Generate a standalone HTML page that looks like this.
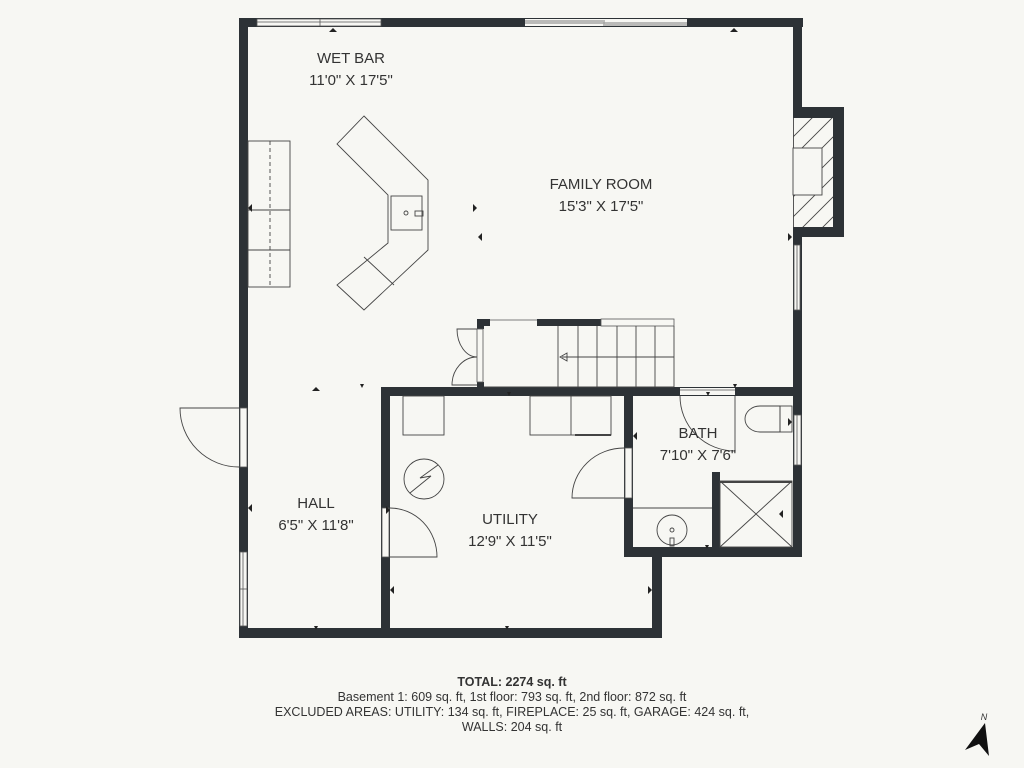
<!DOCTYPE html>
<html><head><meta charset="utf-8"><style>
html,body{margin:0;padding:0;background:#f7f7f3;}
svg{display:block}
text{font-family:"Liberation Sans",sans-serif;fill:#333;}
</style></head><body>
<svg width="1024" height="768" viewBox="0 0 1024 768" xmlns="http://www.w3.org/2000/svg">
<rect width="1024" height="768" fill="#f7f7f3"/>
<g fill="#2d3236">
<rect x="239" y="18" width="9" height="620"/>
<rect x="239" y="18" width="564" height="9"/>
<rect x="793" y="18" width="9" height="539"/>
<rect x="793" y="107" width="51" height="130"/>
<rect x="239" y="628" width="423" height="10"/>
<rect x="652" y="547" width="10" height="91"/>
<rect x="624" y="547" width="178" height="10"/>
<rect x="624" y="387" width="9" height="170"/>
<rect x="381" y="387" width="421" height="9"/>
<rect x="381" y="387" width="9" height="251"/>
<rect x="712" y="472" width="8" height="85"/>
<rect x="477" y="319" width="13" height="7"/>
<rect x="537" y="319" width="64" height="7"/>
<rect x="477" y="319" width="7" height="10"/>
<rect x="477" y="382" width="7" height="8"/>
</g>
<g fill="#f7f7f3" stroke="#555" stroke-width="0.8">
<rect x="257" y="19" width="124" height="7"/>
<line x1="320" y1="19" x2="320" y2="26"/><line x1="257" y1="22" x2="381" y2="22"/>
<rect x="525" y="19" width="162" height="7" stroke="none"/>
<line x1="525" y1="21" x2="605" y2="21"/><line x1="525" y1="23" x2="605" y2="23"/>
<line x1="603" y1="23" x2="687" y2="23"/><line x1="603" y1="25" x2="687" y2="25"/>
<rect x="240" y="408" width="7" height="59"/>
<rect x="240" y="552" width="7" height="74"/><line x1="240" y1="589" x2="247" y2="589"/><line x1="243" y1="552" x2="243" y2="626"/>
<rect x="794" y="245" width="6" height="65"/><line x1="797" y1="245" x2="797" y2="310"/>
<rect x="794" y="415" width="7" height="50"/><line x1="797" y1="415" x2="797" y2="465"/>
<rect x="625" y="448" width="7" height="50"/>
<rect x="382" y="508" width="7" height="49"/>
<rect x="680" y="388" width="55" height="7" stroke="none"/>
<line x1="680" y1="390" x2="735" y2="390"/>
<rect x="490" y="319" width="47" height="6" stroke="none"/>
<line x1="490" y1="320" x2="537" y2="320"/>
<rect x="601" y="319" width="73" height="7"/>
<rect x="477" y="329" width="6" height="53"/>
<rect x="793" y="118" width="40" height="109" stroke="none"/>
</g>
<g fill="none" stroke="#444" stroke-width="0.9">
<clipPath id="fc"><rect x="793" y="118" width="40" height="109"/></clipPath>
<g clip-path="url(#fc)">
<line x1="780" y1="150" x2="840" y2="90"/><line x1="780" y1="170" x2="840" y2="110"/><line x1="780" y1="190" x2="840" y2="130"/><line x1="780" y1="210" x2="840" y2="150"/><line x1="780" y1="230" x2="840" y2="170"/><line x1="780" y1="250" x2="840" y2="190"/><line x1="780" y1="270" x2="840" y2="210"/><line x1="780" y1="290" x2="840" y2="230"/><line x1="780" y1="130" x2="840" y2="70"/>
</g>
<line x1="793.5" y1="118" x2="793.5" y2="227"/>
<rect x="793" y="148" width="29" height="47" fill="#f7f7f3"/>
<rect x="248" y="141" width="42" height="146"/>
<line x1="248" y1="210" x2="290" y2="210"/><line x1="248" y1="250" x2="290" y2="250"/>
<line x1="270" y1="141" x2="270" y2="287" stroke-dasharray="4,3"/>
<polygon points="364,116 428,180 428,250 364,310 337,285 388,243 388,195 337,144"/>
<rect x="391" y="196" width="31" height="34"/>
<circle cx="406" cy="213" r="2"/><rect x="415" y="211" width="8" height="5"/>
<line x1="364" y1="257" x2="394" y2="285"/>
<line x1="484" y1="387" x2="674" y2="387"/>
<line x1="558" y1="326" x2="558" y2="387"/><line x1="578" y1="326" x2="578" y2="387"/><line x1="597" y1="326" x2="597" y2="387"/><line x1="617" y1="326" x2="617" y2="387"/><line x1="636" y1="326" x2="636" y2="387"/><line x1="655" y1="326" x2="655" y2="387"/><line x1="674" y1="326" x2="674" y2="387"/>
<line x1="562" y1="357" x2="674" y2="357"/>
<polygon points="560,357 567,353 567,361"/>
<path d="M477,329 L457,329 A20,28 0 0 0 477,357"/>
<path d="M477,385 L452,385 A25,28 0 0 1 477,357"/>
<path d="M239,408 L180,408 A59,59 0 0 0 239,467"/>
<path d="M390,508 A47,49 0 0 1 437,557 L390,557"/>
<path d="M624,448 A52,50 0 0 0 572,498 L624,498"/>
<path d="M680,396 A55,55 0 0 0 735,451 L735,396"/>
<rect x="403" y="396" width="41" height="39"/>
<rect x="530" y="396" width="81" height="39"/><line x1="571" y1="396" x2="571" y2="435"/>
<line x1="575" y1="435" x2="611" y2="435" stroke-width="2"/>
<circle cx="424" cy="479" r="20"/>
<path d="M410,493 L431,476 L420,478 L438,465"/>
<path d="M780,406 L760,406 A15,13 0 0 0 760,432 L780,432 Z"/>
<rect x="780" y="406" width="12" height="26"/>
<rect x="633" y="508" width="79" height="39" stroke="none"/>
<line x1="633" y1="508" x2="712" y2="508"/>
<circle cx="672" cy="530" r="15"/><circle cx="672" cy="530" r="2"/>
<rect x="670" y="538" width="4" height="8"/>
<rect x="720" y="481" width="72" height="66"/>
<line x1="720" y1="481" x2="792" y2="547"/><line x1="792" y1="481" x2="720" y2="547"/>
<line x1="720" y1="482" x2="792" y2="482" stroke-width="2"/>
</g>
<g fill="#222">
<polygon points="333,28 337,32 329,32"/><polygon points="734,28 738,32 730,32"/>
<polygon points="248,208 252,204 252,212"/><polygon points="473,208 477,204 477,212" transform="rotate(180 475 208)"/>
<polygon points="478,237 482,233 482,241"/><polygon points="792,237 788,233 788,241"/>
<polygon points="316,391 320,387 312,387" transform="rotate(180 316 389)"/><polygon points="360,384 364,384 362,388"/>
<polygon points="507,396 511,396 509,392" transform="rotate(180 509 394)"/><polygon points="706,396 710,396 708,392" transform="rotate(180 708 394)"/>
<polygon points="733,384 737,384 735,388"/>
<polygon points="633,436 637,432 637,440"/><polygon points="792,422 788,418 788,426"/>
<polygon points="248,508 252,504 252,512"/><polygon points="390,510 386,506 386,514"/>
<polygon points="390,590 394,586 394,594"/><polygon points="652,590 648,586 648,594"/>
<polygon points="314,626 318,626 316,630"/><polygon points="505,626 509,626 507,630"/>
<polygon points="705,545 709,545 707,549"/><polygon points="779,514 783,510 783,518"/>
</g>
<g font-size="15" text-anchor="middle">
<text x="351" y="63">WET BAR</text>
<text x="351" y="85">11'0" X 17'5"</text>
<text x="601" y="189">FAMILY ROOM</text>
<text x="601" y="211">15'3" X 17'5"</text>
<text x="698" y="438">BATH</text>
<text x="698" y="460">7'10" X 7'6"</text>
<text x="316" y="508">HALL</text>
<text x="316" y="530">6'5" X 11'8"</text>
<text x="510" y="524">UTILITY</text>
<text x="510" y="546">12'9" X 11'5"</text>
</g>
<g font-size="12.5" text-anchor="middle">
<text x="512" y="686" font-weight="bold">TOTAL: 2274 sq. ft</text>
<text x="512" y="701">Basement 1: 609 sq. ft, 1st floor: 793 sq. ft, 2nd floor: 872 sq. ft</text>
<text x="512" y="716">EXCLUDED AREAS: UTILITY: 134 sq. ft, FIREPLACE: 25 sq. ft, GARAGE: 424 sq. ft,</text>
<text x="512" y="731">WALLS: 204 sq. ft</text>
</g>
<text x="984" y="720" font-size="9" font-style="italic" text-anchor="middle">N</text>
<polygon points="985,723 965,750 979,744 989,756" fill="#111"/>
</svg>
</body></html>
